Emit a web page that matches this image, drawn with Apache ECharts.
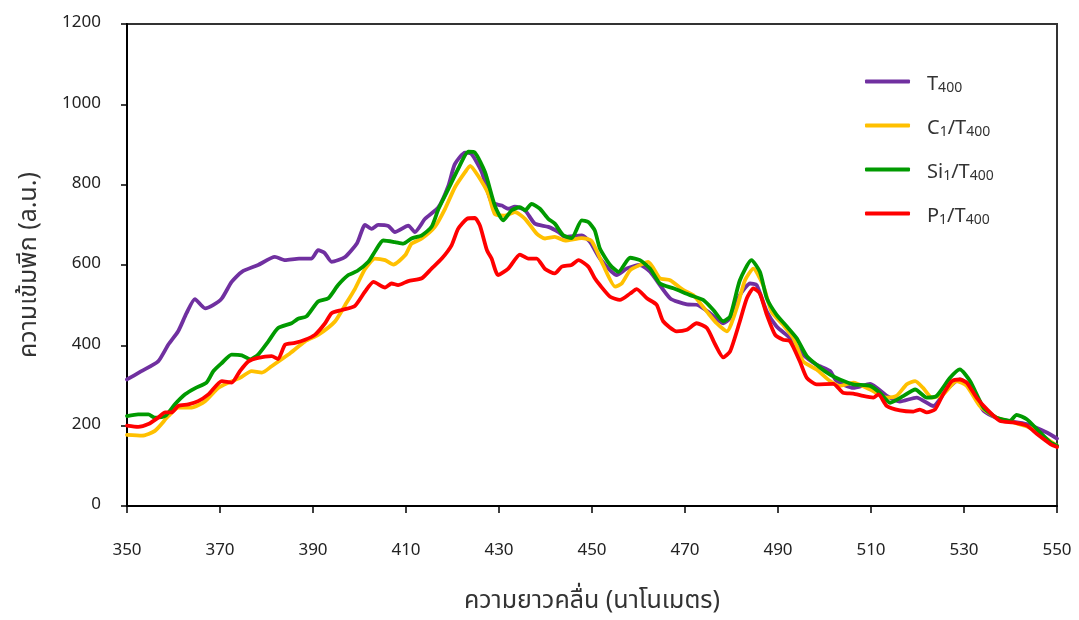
<!DOCTYPE html>
<html>
<head>
<meta charset="utf-8">
<script src="https://cdn.jsdelivr.net/npm/echarts@6/dist/echarts.min.js"></script>
<style>
  html, body { margin: 0; padding: 0; background: #fff; }
  #chart { width: 1079px; height: 620px; }
</style>
</head>
<body>
<div id="chart"></div>
<script>
// Emission spectra: wavelength (nm) vs. peak intensity (a.u.)
const seriesNames = ['T400', 'C1/T400', 'Si1/T400', 'P1/T400'];
const seriesColors = ['#7030A0', '#FFC000', '#009A00', '#FF0000'];

const xTicks = [350, 370, 390, 410, 430, 450, 470, 490, 510, 530, 550];
const yTicks = [0, 200, 400, 600, 800, 1000, 1200];

const spectrumT400 = [
  [350,315],[353,335],[356.7,360],[358.9,402],[361,435],[362.8,480],[364.6,515],[366.8,492],
  [368.5,500],[370.4,517],[372.5,558],[374.7,583],[378.2,600],[381.8,620],[384,612],[387,616],
  [389.7,616],[391.1,637],[392.5,630],[394,608],[396.9,620],[399.5,655],[401.2,700],[402.6,690],
  [404,700],[406.2,697],[407.6,682],[410.5,698],[411.9,682],[414.1,715],[417,744],[419.1,797],
  [420.5,851],[422.7,880],[424.1,876],[426.3,831],[428.4,756],[430.6,748],[432,740],[433.4,745],
  [435.6,736],[437.7,703],[440.6,695],[442.8,682],[444.2,670],[447.8,674],[449.6,657],[451.7,616],
  [455.3,575],[457.5,591],[460.3,600],[462.5,583],[466.8,517],[470.4,502],[472.5,501],[475.4,480],
  [478.2,455],[479.7,468],[481.8,525],[484,554],[485.4,550],[487.6,484],[489.7,447],[492.6,418],
  [495.4,377],[498.3,352],[501.2,336],[502.6,311],[506.2,294],[509.8,304],[513.4,274],[516.2,260],
  [519.8,270],[523.4,249],[526.3,290],[529.1,315],[531.3,299],[534.2,237],[537.7,216],[543.5,204],
  [547.8,183],[550,168]
];

const spectrumC1 = [
  [350,177],[353.2,175],[356,187],[358.9,224],[361,245],[363.9,245],[366.8,261],[369.6,294],
  [371.8,307],[374.3,319],[376.8,336],[379,332],[381.1,348],[384.7,377],[388.3,410],[391.1,426],
  [394.7,459],[396.9,500],[399,540],[401.2,590],[403.3,616],[405.5,612],[407.3,601],[409.8,624],
  [411.2,653],[413.4,666],[416.2,695],[418.4,740],[420.5,793],[422.7,831],[423.8,847],[425.5,822],
  [427.7,777],[429.1,727],[431.3,723],[433.4,732],[435.6,715],[438.1,678],[439.9,666],[442,670],
  [444.2,661],[447.8,667],[449.9,660],[452.4,600],[455,546],[456.4,554],[458.2,587],[460.3,600],
  [462.1,608],[464.6,567],[466.8,562],[469.6,538],[471.8,525],[474.7,484],[476.8,455],[479,435],
  [481.1,492],[482.9,562],[484.7,591],[486.8,550],[488.6,484],[491.1,451],[493.3,418],[495.4,360],
  [498.3,340],[501.2,311],[503.3,299],[506.2,307],[509.8,290],[513.4,270],[515.5,274],[517.7,303],
  [519.5,311],[521.2,294],[523.1,270],[525.5,278],[528.4,311],[530.6,299],[533.4,249],[537,220],
  [540.6,208],[544.2,195],[547.8,167],[550,150]
];

const spectrumSi1 = [
  [350,224],[352.4,228],[354.6,228],[356,220],[358.2,224],[360.3,253],[362.5,278],[364.6,293],
  [367.1,307],[368.6,336],[370.4,356],[372.5,377],[374.7,375],[376.5,365],[378.2,377],[380.4,410],
  [382.5,443],[385.4,455],[386.8,466],[388.6,472],[391.1,509],[393.3,517],[395.4,550],[397.6,575],
  [399.5,585],[401.9,608],[403.3,633],[405.1,661],[407.6,657],[409.4,653],[411.2,666],[413.4,674],
  [415.5,695],[417,740],[419.1,789],[421.2,839],[423.4,882],[424.8,880],[427,831],[429.1,748],
  [430.9,711],[432.7,736],[434.5,744],[435.6,736],[437,752],[438.8,740],[440.6,715],[442,703],
  [443.8,674],[445.6,667],[447.8,711],[449.2,707],[450.6,686],[451.7,641],[453.9,600],[455.7,583],
  [458.2,618],[460.3,612],[462.5,591],[464.6,554],[467.5,542],[471.1,525],[473.9,513],[476.1,488],
  [478.2,460],[479.7,472],[481.8,562],[484.3,612],[486.1,583],[487.6,517],[489.7,476],[491.9,447],
  [494,418],[496.2,373],[499,345],[501.2,327],[503.3,315],[506.2,303],[509.8,299],[511.9,282],
  [514.1,257],[517,274],[519.5,290],[522,270],[524.1,274],[527,319],[529.1,340],[531.3,311],
  [534.2,245],[537,220],[539.9,212],[541.3,227],[543.5,216],[545.7,191],[548.6,158],[550,150]
];

const spectrumP1 = [
  [350,200],[352.4,197],[354.6,204],[356.7,220],[358.2,233],[359.6,233],[361,249],[363.2,253],
  [365.3,261],[367.5,278],[370.4,311],[372.5,307],[374.3,336],[376.1,360],[378.2,369],[381.1,373],
  [382.5,366],[384,402],[386.1,406],[388.3,414],[390.4,426],[392.6,455],[394,480],[396.2,488],
  [399,498],[401.2,534],[403,558],[405.5,544],[406.9,554],[408.3,550],[410.5,560],[413.4,567],
  [415.5,591],[417.7,616],[419.8,649],[421.2,690],[423.1,715],[424.8,717],[425.9,698],[427.4,637],
  [428.4,616],[429.8,575],[432,591],[434.5,626],[436.3,616],[438.1,616],[439.9,590],[442,579],
  [443.5,596],[445.6,600],[447.1,612],[449.2,596],[450.6,567],[451.7,550],[453.9,521],[456,513],
  [458.2,529],[459.6,540],[461.8,517],[463.9,501],[465.3,460],[468.2,435],[470.4,439],[472.5,455],
  [474.7,443],[476.5,402],[478.2,370],[479.7,385],[481.8,460],[483.3,517],[484.7,542],[486.1,529],
  [487.6,476],[489.4,426],[491.1,414],[492.6,410],[494.7,360],[496.2,319],[498.3,303],[501.9,304],
  [504,282],[506.2,280],[508.3,274],[510.5,270],[511.6,278],[513.4,249],[516.2,238],[519.1,235],
  [520.5,240],[522,233],[523.8,241],[525.5,278],[527.4,311],[529.1,315],[530.6,307],[532.7,270],
  [534.9,241],[537.7,212],[540.6,208],[543.5,200],[545.7,179],[548.6,154],[550,147]
];

const spectra = [spectrumT400, spectrumC1, spectrumSi1, spectrumP1];

const FONT = "Tahoma, 'Leelawadee UI', 'Noto Sans Thai', 'Noto Sans', 'DejaVu Sans', sans-serif";

// legend label "X1/T400" -> rich text with subscript digits
function legendLabel(name) {
  return name.replace(/([A-Za-z]+)(\d+)/g, (m, a, d) => `{n|${a}}{s|${d}}`)
             .replace(/\//g, '{n|/}');
}

const chart = echarts.init(document.getElementById('chart'), null, { renderer: 'canvas' });

chart.setOption({
  animation: false,
  backgroundColor: '#fff',
  textStyle: { fontFamily: FONT },
  grid: {
    left: 127, right: 22, top: 24, bottom: 111,
    show: true, borderColor: '#333', borderWidth: 2, backgroundColor: 'transparent'
  },
  legend: {
    orient: 'vertical',
    left: 860, top: 71,
    itemWidth: 45, itemHeight: 4,
    itemGap: 24,
    icon: 'roundRect',
    data: seriesNames,
    formatter: legendLabel,
    textStyle: {
      color: '#333',
      padding: [0, 0, 0, 12],
      rich: {
        n: { fontSize: 20, lineHeight: 29, verticalAlign: 'bottom', color: '#333', fontFamily: FONT },
        s: { fontSize: 14, lineHeight: 13, verticalAlign: 'bottom', color: '#333', fontFamily: FONT }
      }
    }
  },
  xAxis: {
    type: 'value',
    min: xTicks[0], max: xTicks[xTicks.length - 1], interval: 20,
    name: 'ความยาวคลื่น (นาโนเมตร)',
    nameLocation: 'middle', nameGap: 84,
    nameTextStyle: { fontSize: 25, color: '#333', fontFamily: FONT },
    axisLine: { lineStyle: { color: '#000', width: 2 } },
    axisTick: { show: true, inside: false, length: 7, lineStyle: { color: '#000', width: 1.5 } },
    axisLabel: { fontSize: 17, color: '#222', margin: 37, fontFamily: FONT },
    splitLine: { show: false }
  },
  yAxis: {
    type: 'value',
    min: yTicks[0], max: yTicks[yTicks.length - 1], interval: 200,
    name: 'ความเข้มพีก (a.u.)',
    nameLocation: 'middle', nameGap: 84, nameRotate: 90,
    nameTextStyle: { fontSize: 25, color: '#333', fontFamily: FONT },
    axisLine: { show: true, lineStyle: { color: '#000', width: 2 } },
    axisTick: { show: true, inside: false, length: 6, lineStyle: { color: '#000', width: 1.5 } },
    axisLabel: { fontSize: 17, color: '#222', margin: 26, fontFamily: FONT, formatter: v => String(v) },
    splitLine: { show: false }
  },
  series: seriesNames.map((name, i) => ({
    name,
    type: 'line',
    data: spectra[i],
    showSymbol: false,
    symbol: 'none',
    smooth: 0.2,
    color: seriesColors[i],
    lineStyle: { width: 3.8, color: seriesColors[i], cap: 'round', join: 'round' },
    z: 2 + i
  }))
});
</script>
</body>
</html>
